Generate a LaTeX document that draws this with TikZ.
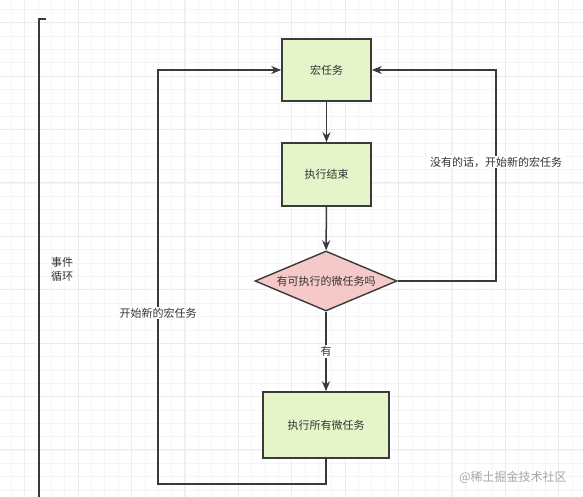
\documentclass[tikz,border=0pt]{standalone}
\usepackage{fontspec}
\setmainfont{Noto Sans CJK SC}
\usetikzlibrary{arrows.meta,shapes.geometric}
\definecolor{boxfill}{HTML}{E6F5C9}
\definecolor{diafill}{HTML}{F5C9C8}
\definecolor{stroke}{HTML}{3A3A3A}
\definecolor{txt}{HTML}{333333}
\definecolor{gridmaj}{HTML}{ECECEC}
\definecolor{gridmin}{HTML}{F5F5F5}
\tikzset{
  taskbox/.style={draw=stroke, fill=boxfill, line width=1.6pt, rectangle, inner sep=0pt, font=\fontsize{11}{13}\selectfont, text=txt},
  decision/.style={draw=stroke, fill=diafill, line width=1.4pt, diamond, inner sep=0pt, font=\fontsize{11}{13}\selectfont, text=txt},
  conn/.style={draw=stroke, line width=1.5pt, -{Stealth[length=10pt,width=8pt]}},
  plainline/.style={draw=stroke, line width=1.5pt},
  lbl/.style={font=\fontsize{11}{13}\selectfont, text=txt, fill=white, inner sep=1pt},
}
\begin{document}
\begin{tikzpicture}[x=1pt,y=-1pt]
\useasboundingbox (0,0) rectangle (583,497);
\fill[white] (0,0) rectangle (583,497);
% grid
\foreach \i in {0,...,44} {
  \draw[gridmin, line width=0.5pt] ({-2.1+\i*13.35},0) -- ({-2.1+\i*13.35},497);
}
\foreach \i in {0,...,38} {
  \draw[gridmin, line width=0.5pt] (0,{-4+\i*13.35}) -- (583,{-4+\i*13.35});
}
\foreach \i in {0,...,11} {
  \draw[gridmaj, line width=0.7pt] ({24.6+\i*53.4},0) -- ({24.6+\i*53.4},497);
}
\foreach \i in {0,...,9} {
  \draw[gridmaj, line width=0.7pt] (0,{22.6+\i*53.4}) -- (583,{22.6+\i*53.4});
}
% bracket
\coordinate (bt) at (46,19);
\coordinate (bc) at (39,19);
\coordinate (bb) at (39,497);
\draw[plainline] (bt) -- (bc) -- (bb);
\node[font=\fontsize{11}{14}\selectfont, text=txt, align=left, anchor=center] (loop) at (62,269) {事件\\循环};
% nodes
\node[taskbox, minimum width=89pt, minimum height=62pt] (macro) at (326.5,70) {宏任务};
\node[taskbox, minimum width=89pt, minimum height=63pt] (done) at (326.5,174.5) {执行结束};
\node[decision, minimum width=142pt, minimum height=60pt, aspect=2.37] (check) at (326,281) {有可执行的微任务吗};
\node[taskbox, minimum width=126pt, minimum height=66pt] (micro) at (326,425) {执行所有微任务};
% connectors
\draw[conn] (macro) -- (done);
\draw[conn] (done) -- (check);
\draw[conn] (check) -- node[lbl, pos=0.5] (yes) {有} (micro);
\coordinate (lb) at (326,484);
\coordinate (ll) at (158,484);
\coordinate (lt) at (158,70);
\draw[conn] (micro.south) -- (lb) -- (ll) -- node[lbl, pos=0.413] (newmacro) {开始新的宏任务} (lt) -- (macro.west);
\coordinate (rb) at (496,281);
\coordinate (rt) at (496,70);
\draw[conn] (check.east) -- (rb) -- node[lbl, pos=0.564] (nomicro) {没有的话，开始新的宏任务} (rt) -- (macro.east);
% watermark
\node[font=\fontsize{12}{14}\selectfont, text=black!35, anchor=center] (wm) at (513,477) {@稀土掘金技术社区};
\end{tikzpicture}
\end{document}
